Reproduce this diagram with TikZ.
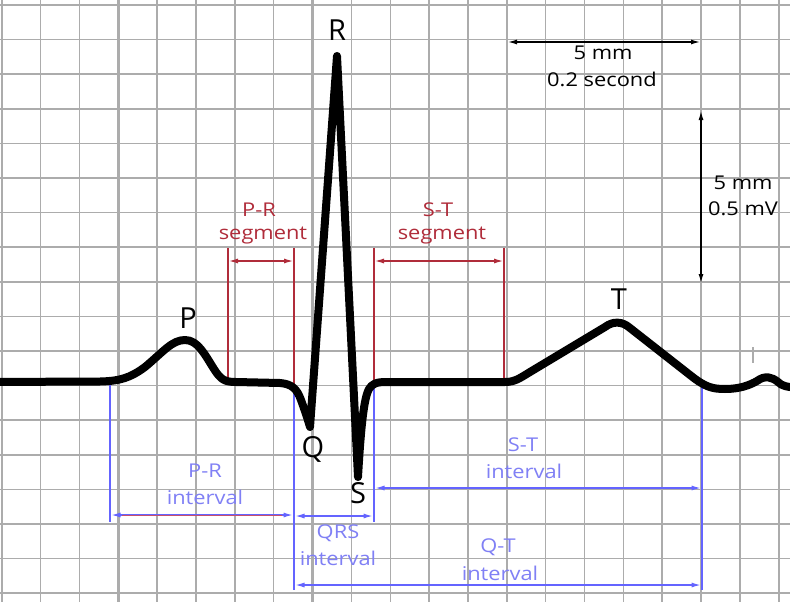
\documentclass[tikz,border=0pt]{standalone}
\usepackage{fontspec}
\setmainfont{Open Sans}
\usetikzlibrary{arrows.meta}
\definecolor{gridc}{RGB}{172,172,172}
\definecolor{segred}{RGB}{176,44,58}
\definecolor{intblue}{RGB}{100,100,255}
\definecolor{txtblue}{RGB}{128,128,245}
\definecolor{mixline}{RGB}{200,80,110}
\tikzset{
  thingrid/.style={draw=gridc, line width=1.5},
  thickgrid/.style={draw=gridc, line width=2.6},
  ecg/.style={draw=black, line width=8, line join=round, line cap=round},
  redline/.style={draw=segred, line width=1.8},
  redarrow/.style={draw=segred, line width=1.1, {Latex[length=9,width=5]}-{Latex[length=9,width=5]}},
  blueline/.style={draw=intblue, line width=2.6},
  bluearrow/.style={draw=intblue, line width=1.1, {Latex[length=9,width=5]}-{Latex[length=9,width=5]}},
  blackarrow/.style={draw=black, line width=1.2, {Latex[length=9,width=5]}-{Latex[length=9,width=5]}},
  small/.style={font=\fontsize{19}{22}\selectfont, xscale=1.15, inner sep=0},
  redtxt/.style={small, text=segred},
  bluetxt/.style={small, text=txtblue},
  blacktxt/.style={small, text=black},
  wave/.style={font=\fontsize{29}{32}\selectfont, inner sep=0, text=black},
}
\begin{document}
\begin{tikzpicture}[x=1pt,y=-1pt]
\useasboundingbox (0,0) rectangle (790,602);
\clip (0,0) rectangle (790,602);
\fill[white] (0,0) rectangle (790,602);
% grid
\foreach \i in {0,...,20} {
  \pgfmathsetmacro{\xx}{1.75+38.85*\i}
  \draw[thingrid] (\xx,0) -- (\xx,602);
}
\foreach \i in {3,8,13,18} {
  \pgfmathsetmacro{\xx}{1.75+38.85*\i}
  \draw[thickgrid] (\xx,0) -- (\xx,602);
}
\foreach \j in {0,...,17} {
  \pgfmathsetmacro{\yy}{5+34.6*\j}
  \draw[thingrid] (0,\yy) -- (790,\yy);
}
\foreach \j in {3,8,13} {
  \pgfmathsetmacro{\yy}{5+34.6*\j}
  \draw[thickgrid] (0,\yy) -- (790,\yy);
}
% small gray tick
\coordinate (tickA) at (753,347);
\coordinate (tickB) at (753,363);
\draw[draw=gridc, line width=1.2] (tickA) -- (tickB);

% coordinates for segment lines
\coordinate (prsA) at (228,248); \coordinate (prsA2) at (228,381);
\coordinate (prsB) at (294,248); \coordinate (prsB2) at (294,384);
\coordinate (stsA) at (374,248); \coordinate (stsA2) at (374,384);
\coordinate (stsB) at (504,248); \coordinate (stsB2) at (504,381);
\draw[redline] (prsA) -- (prsA2);
\draw[redline] (prsB) -- (prsB2);
\draw[redline] (stsA) -- (stsA2);
\draw[redline] (stsB) -- (stsB2);
\coordinate (prsL) at (229,261); \coordinate (prsR) at (293,261);
\coordinate (stsL) at (375,261); \coordinate (stsR) at (503,261);
\draw[redarrow] (prsL) -- (prsR);
\draw[redarrow] (stsL) -- (stsR);

% interval verticals
\coordinate (v1a) at (110,384); \coordinate (v1b) at (110,522);
\coordinate (v2a) at (294,386); \coordinate (v2b) at (294,590);
\coordinate (v3a) at (374,386); \coordinate (v3b) at (374,522);
\coordinate (v4a) at (702,387); \coordinate (v4b) at (702,590);
\draw[blueline] (v1a) -- (v1b);
\draw[blueline] (v2a) -- (v2b);
\draw[blueline] (v3a) -- (v3b);
\draw[blueline] (v4a) -- (v4b);
% interval arrows
\coordinate (pril) at (111.5,515); \coordinate (prir) at (292.5,515);
\coordinate (prml) at (122,515); \coordinate (prmr) at (282,515);
\draw[bluearrow] (pril) -- (prir);
\draw[draw=mixline, line width=0.8] (prml) -- (prmr);
\coordinate (qrsl) at (295.5,516); \coordinate (qrsr) at (372.5,516);
\draw[bluearrow] (qrsl) -- (qrsr);
\coordinate (stil) at (375.5,488); \coordinate (stir) at (700.5,488);
\draw[bluearrow] (stil) -- (stir);
\coordinate (qtl) at (295.5,585); \coordinate (qtr) at (700.5,585);
\draw[bluearrow] (qtl) -- (qtr);

% calibration arrows
\coordinate (calhL) at (508,42); \coordinate (calhR) at (700,42);
\draw[blackarrow] (calhL) -- (calhR);
\coordinate (calvT) at (701,111); \coordinate (calvB) at (701,283);
\draw[blackarrow] (calvT) -- (calvB);

% ECG trace
\draw[ecg] (-10,382) -- (100,381.5)
  .. controls (120,381) and (130,378) .. (145,367)
  .. controls (163,352) and (172,340) .. (185,340)
  .. controls (198,340) and (205,355) .. (214,369)
  .. controls (221,380) and (225,382) .. (236,382)
  -- (280,383)
  .. controls (292,384) and (297,389) .. (301,400)
  .. controls (305,411) and (308,420) .. (310,427)
  -- (337,56) -- (358,477)
  .. controls (361,425) and (364,398) .. (369,389)
  .. controls (372,384) and (376,382) .. (386,382)
  -- (505,382)
  .. controls (515,382) and (520,378) .. (530,372)
  -- (605,327)
  .. controls (613,321) and (622,321) .. (630,328)
  -- (690,375)
  .. controls (705,387) and (712,389) .. (725,389)
  .. controls (740,389) and (750,385) .. (757,381)
  .. controls (765,375) and (772,377) .. (778,382)
  .. controls (782,386) and (786,387) .. (800,388);

% wave labels
\node[wave] (lblR) at (337,30) {R};
\node[wave] (lblP) at (188,318) {P};
\node[wave] (lblQ) at (313,449) {Q};
\node[wave] (lblS) at (358,493) {S};
\node[wave] (lblT) at (619,299) {T};

% red texts
\node[redtxt] (prs1) at (259,210) {P-R};
\node[redtxt] (prs2) at (263,236) {segment};
\node[redtxt] (sts1) at (438,210) {S-T};
\node[redtxt] (sts2) at (442,236) {segment};

% blue texts
\node[bluetxt] (pri1) at (205,471) {P-R};
\node[bluetxt] (pri2) at (205,497) {interval};
\node[bluetxt] (qrs1) at (338,533) {QRS};
\node[bluetxt] (qrs2) at (338,558) {interval};
\node[bluetxt] (sti1) at (523,445) {S-T};
\node[bluetxt] (sti2) at (524,471) {interval};
\node[bluetxt] (qti1) at (498,547) {Q-T};
\node[bluetxt] (qti2) at (500,573) {interval};

% black texts
\node[blacktxt] (c1) at (603,53) {5 mm};
\node[blacktxt] (c2) at (602,79) {0.2 second};
\node[blacktxt] (c3) at (743,183) {5 mm};
\node[blacktxt] (c4) at (743,209) {0.5 mV};
\end{tikzpicture}
\end{document}
